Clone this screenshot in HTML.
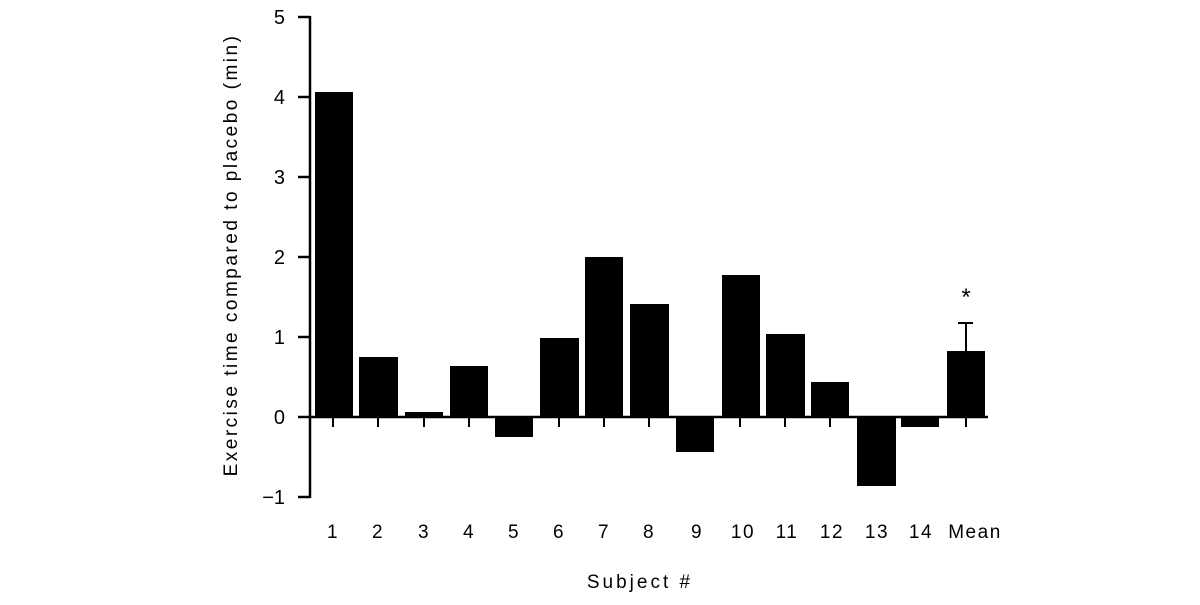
<!DOCTYPE html>
<html><head><style>
body{margin:0;background:#fff;}
svg text{font-family:"Liberation Sans",sans-serif;fill:#000;}
</style></head><body>
<svg width="1200" height="600" xmlns="http://www.w3.org/2000/svg">
<g stroke="#000" stroke-width="2.5" fill="none">
<line x1="310" y1="16" x2="310" y2="498"/>
<line x1="298" y1="17" x2="310" y2="17"/>
<line x1="298" y1="97" x2="310" y2="97"/>
<line x1="298" y1="177" x2="310" y2="177"/>
<line x1="298" y1="257" x2="310" y2="257"/>
<line x1="298" y1="337" x2="310" y2="337"/>
<line x1="298" y1="417" x2="988" y2="417"/>
<line x1="298" y1="497" x2="310" y2="497"/>
</g>
<g stroke="#000" stroke-width="2">
<line x1="333" y1="417" x2="333" y2="427"/><line x1="378" y1="417" x2="378" y2="427"/>
<line x1="424" y1="417" x2="424" y2="427"/><line x1="469" y1="417" x2="469" y2="427"/>
<line x1="514" y1="417" x2="514" y2="427"/><line x1="559" y1="417" x2="559" y2="427"/>
<line x1="604" y1="417" x2="604" y2="427"/><line x1="649" y1="417" x2="649" y2="427"/>
<line x1="695" y1="417" x2="695" y2="427"/><line x1="740" y1="417" x2="740" y2="427"/>
<line x1="785" y1="417" x2="785" y2="427"/><line x1="830" y1="417" x2="830" y2="427"/>
<line x1="876" y1="417" x2="876" y2="427"/><line x1="920" y1="417" x2="920" y2="427"/>
<line x1="966" y1="417" x2="966" y2="427"/>
<line x1="966" y1="351" x2="966" y2="323"/><line x1="958" y1="323" x2="973" y2="323"/>
</g>
<g fill="#000">
<rect x="315" y="92" width="38" height="325"/>
<rect x="359" y="357" width="39" height="60"/>
<rect x="405" y="412" width="38" height="5"/>
<rect x="450" y="366" width="38" height="51"/>
<rect x="495" y="417" width="38" height="20"/>
<rect x="540" y="338" width="39" height="79"/>
<rect x="585" y="257" width="38" height="160"/>
<rect x="630" y="304" width="39" height="113"/>
<rect x="676" y="417" width="38" height="35"/>
<rect x="722" y="275" width="38" height="142"/>
<rect x="766" y="334" width="39" height="83"/>
<rect x="811" y="382" width="38" height="35"/>
<rect x="857" y="417" width="39" height="69"/>
<rect x="901" y="417" width="38" height="10"/>
<rect x="947" y="351" width="38" height="66"/>
</g>
<g font-size="20" text-anchor="end">
<text x="285" y="24">5</text><text x="285" y="104">4</text><text x="285" y="184">3</text>
<text x="285" y="264">2</text><text x="285" y="344">1</text><text x="285" y="424">0</text>
<text x="285" y="504">−1</text>
</g>
<g font-size="19" text-anchor="middle" letter-spacing="1.5">
<text x="333" y="538">1</text><text x="378" y="538">2</text><text x="424" y="538">3</text>
<text x="469" y="538">4</text><text x="514" y="538">5</text><text x="559" y="538">6</text>
<text x="604" y="538">7</text><text x="649" y="538">8</text><text x="697" y="538">9</text>
<text x="743" y="538">10</text><text x="787" y="538">11</text><text x="832" y="538">12</text>
<text x="877" y="538">13</text><text x="921" y="538">14</text><text x="975" y="538">Mean</text>
<text x="966" y="305" font-size="24" letter-spacing="0">*</text>
<text x="640" y="588" letter-spacing="3">Subject #</text>
<text transform="translate(237,255) rotate(-90)" letter-spacing="2.5">Exercise time compared to placebo (min)</text>
</g>
</svg>
</body></html>
